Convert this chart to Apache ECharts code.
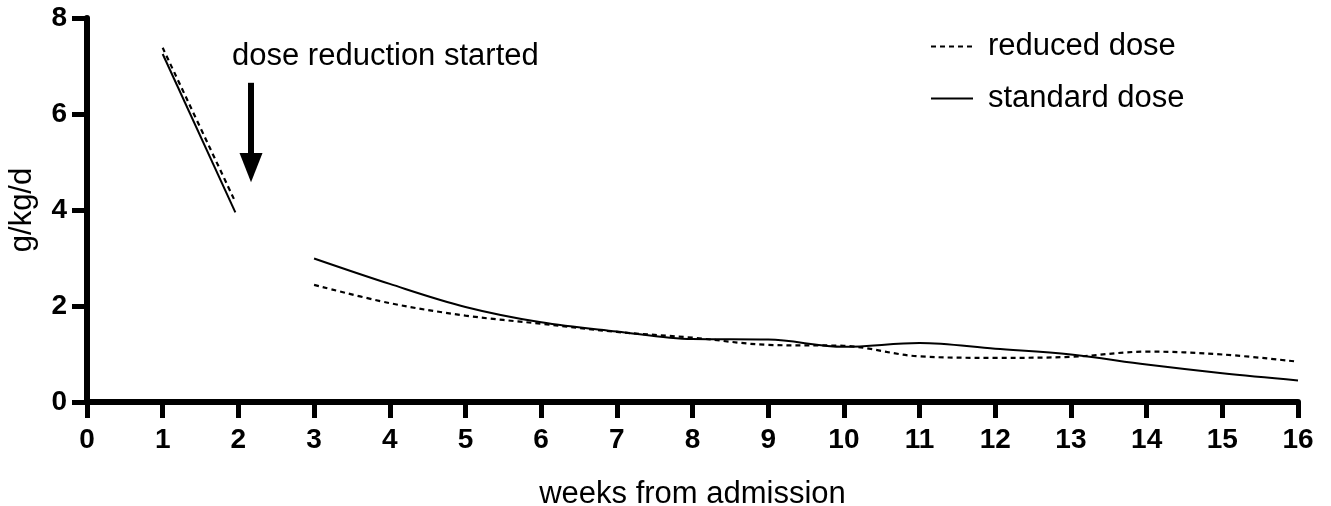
<!DOCTYPE html>
<html>
<head>
<meta charset="utf-8">
<script src="https://cdn.jsdelivr.net/npm/echarts@6/dist/echarts.min.js"></script>
<style>
  html, body { margin: 0; padding: 0; background: #fff; }
  #chart { width: 1331px; height: 506px; }
</style>
</head>
<body>
<div id="chart"></div>
<script>
// weeks 1-2 (before dose reduction)
const earlyWeeksStandard = [1, 1.96]
const earlyStandard = [7.25, 3.95]
const earlyWeeksReduced = [1, 1.95]
const earlyReduced = [7.38, 4.2]

// weeks 3-16
const weeks = [3, 4, 5, 6, 7, 8, 9, 10, 11, 12, 13, 14, 15, 16]
const standardDose = [2.99, 2.46, 1.98, 1.66, 1.47, 1.31, 1.30, 1.15, 1.23, 1.11, 0.99, 0.78, 0.60, 0.45]
const reducedDose = [2.44, 2.06, 1.80, 1.63, 1.46, 1.34, 1.19, 1.17, 0.95, 0.92, 0.94, 1.05, 0.99, 0.84]

// arrow marking the start of dose reduction: week, top value, base of head, tip value
const arrowWeek = 2.167
const arrowTop = 6.65
const arrowHeadBase = 5.19
const arrowTip = 4.58

const FONT = "'Liberation Sans', Arial, Helvetica, sans-serif"

const pairs = (xs, ys) => xs.map((x, i) => [x, ys[i]])

const chart = echarts.init(document.getElementById('chart'), null, { renderer: 'canvas' })

const solid = { color: '#000', width: 2, type: 'solid' }
const dashed = { color: '#000', width: 2.2, type: [5, 4] }

const option = {
  animation: false,
  backgroundColor: '#fff',
  grid: { left: 87, right: 33, top: 18, bottom: 104, containLabel: false, outerBoundsMode: 'none' },
  legend: {
    orient: 'vertical',
    left: 925,
    top: 26,
    itemWidth: 42,
    itemHeight: 30,
    itemGap: 21,
    data: ['reduced dose', 'standard dose'],
    // hide the point marker, keep only the line sample
    itemStyle: { opacity: 0 },
    textStyle: { fontFamily: FONT, fontSize: 31, color: '#000', padding: [0, 0, 0, 10] },
  },
  xAxis: {
    type: 'value',
    min: 0,
    max: 16,
    interval: 1,
    name: 'weeks from admission',
    nameLocation: 'middle',
    nameGap: 77,
    nameTextStyle: { fontFamily: FONT, fontSize: 31, color: '#000' },
    axisLine: { lineStyle: { color: '#000', width: 6 } },
    axisTick: { length: 16, lineStyle: { color: '#000', width: 5 } },
    axisLabel: { fontFamily: FONT, fontSize: 28, fontWeight: 'bold', color: '#000', margin: 24 },
    splitLine: { show: false },
  },
  yAxis: {
    type: 'value',
    min: 0,
    max: 8,
    interval: 2,
    name: 'g/kg/d',
    nameLocation: 'middle',
    nameGap: 49,
    nameTextStyle: { fontFamily: FONT, fontSize: 31, color: '#000' },
    axisLine: { show: true, lineStyle: { color: '#000', width: 6 } },
    axisTick: { show: true, length: 15, lineStyle: { color: '#000', width: 5 } },
    axisLabel: { fontFamily: FONT, fontSize: 28, fontWeight: 'bold', color: '#000', margin: 20 },
    splitLine: { show: false },
  },
  series: [
    {
      name: 'reduced dose', type: 'line', symbol: 'none', smooth: 0.35,
      lineStyle: dashed, itemStyle: { color: '#000' },
      data: pairs(earlyWeeksReduced, earlyReduced),
    },
    {
      name: 'standard dose', type: 'line', symbol: 'none', smooth: 0.35,
      lineStyle: solid, itemStyle: { color: '#000' },
      data: pairs(earlyWeeksStandard, earlyStandard),
    },
    {
      name: 'reduced dose', type: 'line', symbol: 'none', smooth: 0.35,
      lineStyle: dashed, itemStyle: { color: '#000' },
      data: pairs(weeks, reducedDose),
    },
    {
      name: 'standard dose', type: 'line', symbol: 'none', smooth: 0.35,
      lineStyle: solid, itemStyle: { color: '#000' },
      data: pairs(weeks, standardDose),
    },
  ],
}

chart.setOption(option)

// annotation arrow + text, placed through the chart's own scales
const arrowStart = chart.convertToPixel({ gridIndex: 0 }, [arrowWeek, arrowTop])
const arrowBase = chart.convertToPixel({ gridIndex: 0 }, [arrowWeek, arrowHeadBase])
const arrowEnd = chart.convertToPixel({ gridIndex: 0 }, [arrowWeek, arrowTip])

chart.setOption({
  graphic: [
    {
      type: 'line',
      shape: { x1: arrowStart[0], y1: arrowStart[1], x2: arrowBase[0], y2: arrowBase[1] + 2 },
      style: { stroke: '#000', lineWidth: 6 },
    },
    {
      type: 'polygon',
      shape: {
        points: [
          [arrowBase[0] - 11.5, arrowBase[1]],
          [arrowBase[0] + 11.5, arrowBase[1]],
          [arrowEnd[0], arrowEnd[1]],
        ],
      },
      style: { fill: '#000' },
    },
    {
      type: 'text',
      left: 232,
      top: 41,
      style: { text: 'dose reduction started', fontFamily: FONT, fontSize: 31, fill: '#000' },
    },
  ],
})
</script>
</body>
</html>
